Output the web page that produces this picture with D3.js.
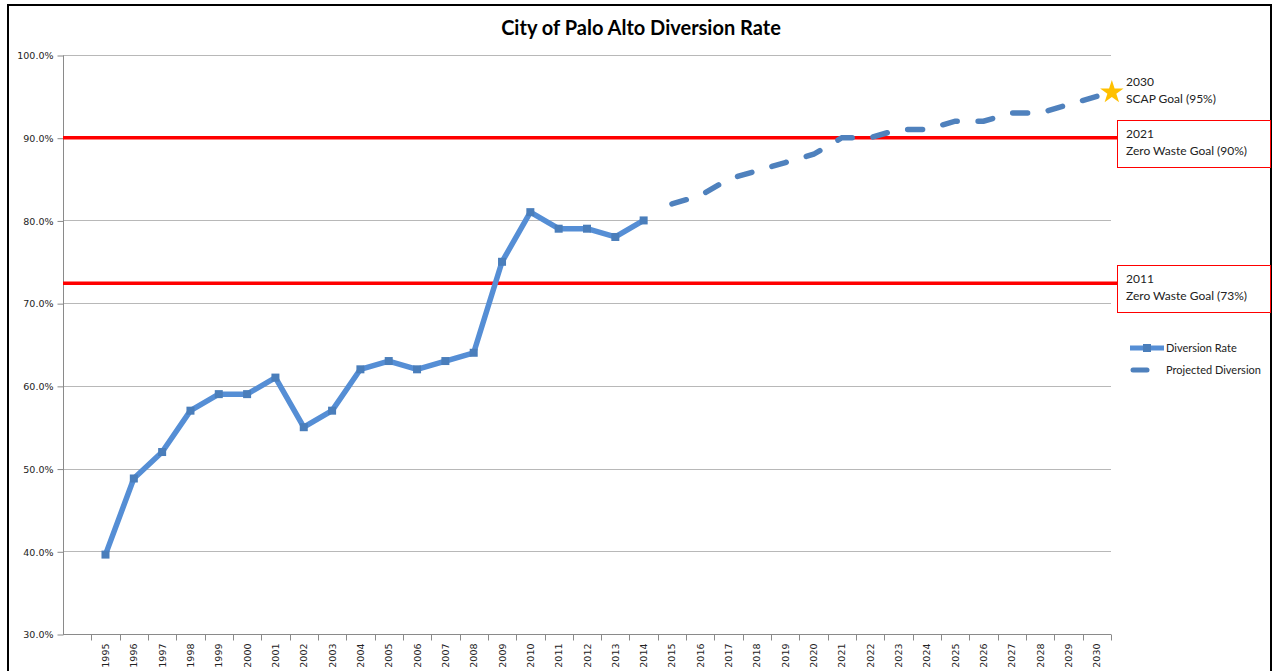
<!DOCTYPE html>
<html>
<head>
<meta charset="utf-8">
<script src="https://cdn.jsdelivr.net/npm/d3@7"></script>
<style>
  body { margin: 0; background: #fff; }
  svg { display: block; }
</style>
</head>
<body>
<div id="chart"></div>
<script>
// data
var years = d3.range(1995, 2031).map(String);
var actualYears = d3.range(1995, 2015).map(String);
var actualRate = [39.6, 48.8, 52, 57, 59, 59, 61, 55, 57, 62, 63, 62, 63, 64, 75, 81, 79, 79, 78, 80];
var projYears = d3.range(2015, 2031).map(String);
var projRate = [82, 83, 85, 86, 87, 88, 90, 90, 91, 91, 92, 92, 93, 93, 94, 95];
var yTicks = [30, 40, 50, 60, 70, 80, 90, 100];
var goals = [
  { value: 90, lines: ["2021", "Zero Waste Goal (90%)"] },
  { value: 72.4, lines: ["2011", "Zero Waste Goal (73%)"] }
];
var scap = { year: "2030", value: 95.5, lines: ["2030", "SCAP Goal (95%)"] };

var W = 1274, H = 671;
// plot edges (not named "top": that is window.top)
var pLeft = 63, pRight = 1111, pTop = 55, pBottom = 634;

var svg = d3.select("#chart").append("svg")
    .attr("width", W)
    .attr("height", H);

// frame
svg.append("path")
    .attr("d", "M8," + H + " V5 H1271 V" + H)
    .attr("fill", "none")
    .attr("stroke", "#000")
    .attr("stroke-width", 2);

// a blank slot comes before 1995, like the original
var x = d3.scaleBand().domain([""].concat(years)).range([pLeft, pRight]);
var y = d3.scaleLinear().domain([30, 100]).range([pBottom, pTop]);
var cx = function(d) { return x(d) + x.bandwidth() / 2; };

// title
svg.append("text")
    .attr("x", 641).attr("y", 35)
    .attr("text-anchor", "middle")
    .style("font-family", "Lato, 'Open Sans', sans-serif")
    .style("font-weight", "bold")
    .style("font-size", "20px")
    .text("City of Palo Alto Diversion Rate");

// grid
svg.append("g").selectAll("line")
    .data(yTicks)
    .enter().append("line")
    .attr("x1", pLeft).attr("x2", pRight)
    .attr("y1", function(d) { return Math.round(y(d)) + 0.5; })
    .attr("y2", function(d) { return Math.round(y(d)) + 0.5; })
    .attr("stroke", "#b8b8b8")
    .attr("stroke-width", 1);

// y axis
var yAxis = svg.append("g")
    .attr("transform", "translate(" + (pLeft + 0.5) + ",0.5)")
    .call(d3.axisLeft(y).tickValues(yTicks).tickSize(6)
        .tickFormat(function(d) { return d.toFixed(1) + "%"; }));
yAxis.select(".domain").attr("stroke", "#8a8a8a").attr("d", "M0," + pTop + "V" + pBottom);
yAxis.selectAll(".tick line").attr("stroke", "#8a8a8a");
yAxis.selectAll("text")
    .attr("x", -10)
    .attr("dy", "0.35em")
    .style("font-family", "'DejaVu Sans', Verdana, sans-serif")
    .style("font-size", "9.5px")
    .attr("fill", "#222");

// x axis, ticks between categories
var xAxis = svg.append("g")
    .attr("transform", "translate(0," + (pBottom + 0.5) + ")")
    .call(d3.axisBottom(x).tickSize(0).tickFormat(""));
xAxis.select(".domain").attr("stroke", "#8a8a8a").attr("d", "M" + pLeft + ",0H" + pRight);
xAxis.selectAll(".tick").remove();
xAxis.selectAll("line.sep")
    .data(years.concat(["end"]))
    .enter().append("line")
    .attr("class", "sep")
    .attr("x1", function(d) { return Math.round(d === "end" ? pRight : x(d)) + 0.5; })
    .attr("x2", function(d) { return Math.round(d === "end" ? pRight : x(d)) + 0.5; })
    .attr("y1", 0).attr("y2", 6)
    .attr("stroke", "#8a8a8a");
xAxis.selectAll("text.yr")
    .data(years)
    .enter().append("text")
    .attr("class", "yr")
    .attr("transform", function(d) { return "translate(" + (cx(d) + 3.5) + ",9) rotate(-90)"; })
    .attr("text-anchor", "end")
    .style("font-family", "'DejaVu Sans', Verdana, sans-serif")
    .style("font-size", "9.5px")
    .attr("fill", "#222")
    .text(function(d) { return d; });

// goal lines
svg.append("g").selectAll("line")
    .data(goals)
    .enter().append("line")
    .attr("x1", pLeft).attr("x2", 1117)
    .attr("y1", function(d) { return y(d.value); })
    .attr("y2", function(d) { return y(d.value); })
    .attr("stroke", "#ff0000")
    .attr("stroke-width", 3.5);

// actual diversion rate
var actual = actualYears.map(function(d, i) { return { year: d, value: actualRate[i] }; });
var proj = projYears.map(function(d, i) { return { year: d, value: projRate[i] }; });
var line = d3.line().x(function(d) { return cx(d.year); }).y(function(d) { return y(d.value); });

svg.append("path")
    .datum(actual)
    .attr("d", line)
    .attr("fill", "none")
    .attr("stroke", "#558ed5")
    .attr("stroke-width", 5.5)
    .attr("stroke-linejoin", "round");

svg.append("g").selectAll("rect")
    .data(actual)
    .enter().append("rect")
    .attr("x", function(d) { return cx(d.year) - 4; })
    .attr("y", function(d) { return y(d.value) - 4; })
    .attr("width", 8).attr("height", 8)
    .attr("fill", "#4a7ebb");

// projected diversion
var projPath = svg.append("path")
    .datum(proj)
    .attr("d", line)
    .attr("fill", "none")
    .attr("stroke", "#4f81bd")
    .attr("stroke-width", 5.5)
    .attr("stroke-linecap", "round");
// stretch the dash pattern so a dash ends on the 2030 point
var len = projPath.node().getTotalLength();
var dash = 15, gap = 21;
var n = Math.round((len - dash) / (dash + gap));
var k = len / (n * (dash + gap) + dash);
projPath.attr("stroke-dasharray", (dash * k) + " " + (gap * k));

// goal boxes
var boxes = svg.append("g").selectAll("g")
    .data(goals)
    .enter().append("g")
    .attr("transform", function(d) { return "translate(1117.5," + (Math.round(y(d.value)) - 17.5) + ")"; });
boxes.append("rect")
    .attr("width", 153).attr("height", 47)
    .attr("fill", "#fff")
    .attr("stroke", "#ff0000")
    .attr("stroke-width", 1);
boxes.selectAll("text")
    .data(function(d) { return d.lines; })
    .enter().append("text")
    .attr("x", 8.5)
    .attr("y", function(d, i) { return 17.5 + i * 17; })
    .style("font-family", "Lato, 'Open Sans', sans-serif")
    .style("font-size", "12px")
    .attr("fill", "#222")
    .text(function(d) { return d; });

// SCAP goal star
svg.append("path")
    .attr("d", d3.symbol(d3.symbolStar, 170)())
    .attr("transform", "translate(" + (cx(scap.year) + 15) + "," + y(scap.value) + ")")
    .attr("fill", "#ffc000");
svg.append("g").selectAll("text")
    .data(scap.lines)
    .enter().append("text")
    .attr("x", 1126)
    .attr("y", function(d, i) { return 86 + i * 17; })
    .style("font-family", "Lato, 'Open Sans', sans-serif")
    .style("font-size", "12px")
    .attr("fill", "#222")
    .text(function(d) { return d; });

// legend
var lg = svg.append("g").attr("transform", "translate(1130,348)");
lg.append("line").attr("x1", 0).attr("x2", 34).attr("y1", 0).attr("y2", 0)
    .attr("stroke", "#558ed5").attr("stroke-width", 5);
lg.append("rect").attr("x", 13).attr("y", -4).attr("width", 8).attr("height", 8).attr("fill", "#4a7ebb");
lg.append("text").attr("x", 36).attr("y", 4)
    .style("font-family", "Lato, 'Open Sans', sans-serif")
    .style("font-size", "11px").attr("fill", "#222")
    .text("Diversion Rate");
lg.append("line").attr("x1", 3).attr("x2", 17).attr("y1", 22).attr("y2", 22)
    .attr("stroke", "#4f81bd").attr("stroke-width", 5).attr("stroke-linecap", "round");
lg.append("text").attr("x", 36).attr("y", 26)
    .style("font-family", "Lato, 'Open Sans', sans-serif")
    .style("font-size", "11px").attr("fill", "#222")
    .text("Projected Diversion");
</script>
</body>
</html>
